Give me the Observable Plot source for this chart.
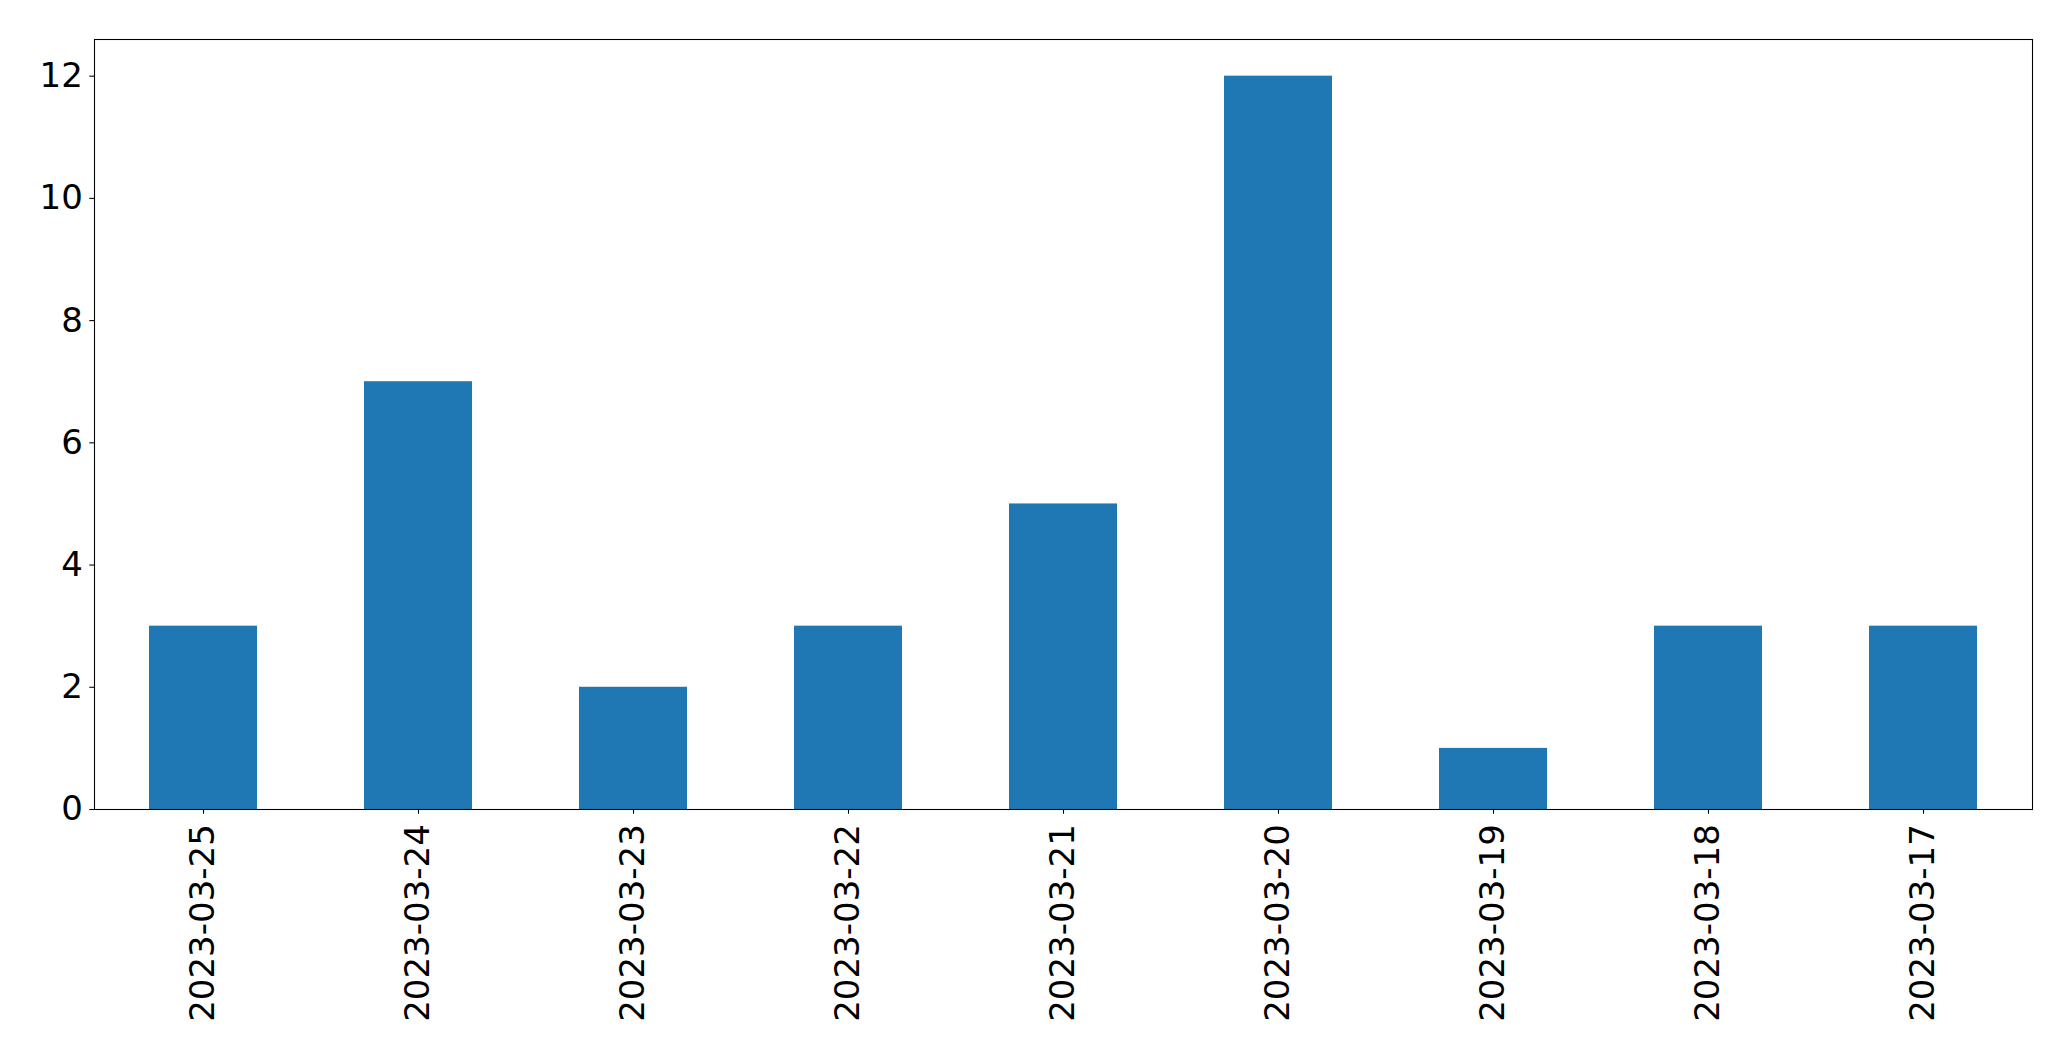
<!DOCTYPE html>
<html>
<head>
<meta charset="utf-8">
<script src="https://cdn.jsdelivr.net/npm/d3@7"></script>
<script src="https://cdn.jsdelivr.net/npm/@observablehq/plot@0.6"></script>
<style>
  html, body { margin: 0; padding: 0; background: #fff; }
  #chart svg { display: block; }
</style>
</head>
<body>
<div id="chart"></div>
<script>
const dates = ["2023-03-25","2023-03-24","2023-03-23","2023-03-22","2023-03-21","2023-03-20","2023-03-19","2023-03-18","2023-03-17"];
const counts = [3, 7, 2, 3, 5, 12, 1, 3, 3];
const yTicks = [0, 2, 4, 6, 8, 10, 12];

const data = dates.map((d, i) => ({date: d, count: counts[i]}));

const chart = Plot.plot({
  width: 2071,
  height: 1061,
  marginLeft: 94,
  marginRight: 39,
  marginTop: 39,
  marginBottom: 252,
  style: {fontFamily: "DejaVu Sans", fontSize: "34px", color: "#000", background: "#fff"},
  x: {type: "band", domain: dates, paddingInner: 0.5, paddingOuter: 0.25, align: 0.5},
  y: {domain: [0, 12.6]},
  marks: [
    Plot.barY(data, {x: "date", y: "count", fill: "#1f77b4"}),
    Plot.axisY({ticks: yTicks, tickSize: 4.7, tickPadding: 7, fontSize: 34, stroke: "#000", strokeWidth: 1.07, label: null}),
    Plot.axisX({tickRotate: -90, tickSize: 4.7, tickPadding: 10, fontSize: 34, stroke: "#000", strokeWidth: 1.07, label: null}),
    Plot.frame({stroke: "#000", strokeWidth: 1.07})
  ]
});
document.getElementById("chart").appendChild(chart);
</script>
</body>
</html>
